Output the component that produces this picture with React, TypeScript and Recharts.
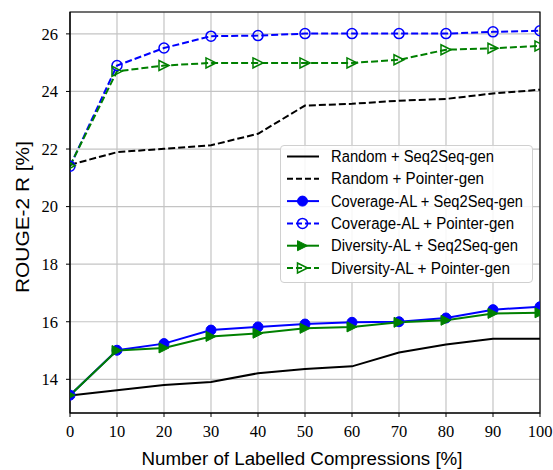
import React from "react";
import {
  LineChart,
  Line,
  XAxis,
  YAxis,
  CartesianGrid,
  ReferenceArea,
  Label,
} from "recharts";

const xValues = [0, 10, 20, 30, 40, 50, 60, 70, 80, 90, 100];
const randomSeq2Seq = [13.44, 13.62, 13.8, 13.91, 14.21, 14.36, 14.45, 14.93, 15.21, 15.41, 15.41];
const randomPointer = [21.45, 21.89, 22.01, 22.13, 22.53, 23.51, 23.57, 23.68, 23.74, 23.93, 24.06];
const coverageSeq2Seq = [13.45, 15.01, 15.24, 15.71, 15.82, 15.92, 15.98, 16.0, 16.13, 16.42, 16.52];
const coveragePointer = [21.4, 24.9, 25.51, 25.92, 25.94, 26.01, 26.01, 26.01, 26.01, 26.07, 26.11];
const diversitySeq2Seq = [13.45, 15.0, 15.09, 15.49, 15.6, 15.77, 15.82, 15.98, 16.05, 16.29, 16.31];
const diversityPointer = [21.42, 24.7, 24.9, 24.99, 24.99, 24.99, 24.99, 25.1, 25.45, 25.5, 25.58];

const xTicks = [0, 10, 20, 30, 40, 50, 60, 70, 80, 90, 100];
const yTicks = [14, 16, 18, 20, 22, 24, 26];
const yDomain: [number, number] = [12.83, 26.76];

const seriesNames = [
  "Random + Seq2Seq-gen",
  "Random + Pointer-gen",
  "Coverage-AL + Seq2Seq-gen",
  "Coverage-AL + Pointer-gen",
  "Diversity-AL + Seq2Seq-gen",
  "Diversity-AL + Pointer-gen",
];
const legendTextWidths = [163, 153, 192, 183, 187, 179];

const data = xValues.map((x, i) => ({
  x,
  rs: randomSeq2Seq[i],
  rp: randomPointer[i],
  cs: coverageSeq2Seq[i],
  cp: coveragePointer[i],
  ds: diversitySeq2Seq[i],
  dp: diversityPointer[i],
}));

type MarkerKind = "none" | "circle" | "circleOpen" | "tri" | "triOpen";

const BLUE = "#0000ff";
const GREEN = "#008000";

function Marker({ kind, cx, cy, color }: { kind: MarkerKind; cx: number; cy: number; color: string }) {
  const r = 5;
  if (kind === "circle") return <circle cx={cx} cy={cy} r={r} fill={color} stroke={color} strokeWidth={1} />;
  if (kind === "circleOpen") return <circle cx={cx} cy={cy} r={r} fill="none" stroke={color} strokeWidth={1.5} />;
  if (kind === "tri" || kind === "triOpen") {
    const pts = `${cx + r},${cy} ${cx - r},${cy - r} ${cx - r},${cy + r}`;
    return (
      <polygon
        points={pts}
        fill={kind === "tri" ? color : "none"}
        stroke={color}
        strokeWidth={kind === "tri" ? 1 : 1.5}
        strokeLinejoin="miter"
      />
    );
  }
  return null;
}

const makeDot = (kind: MarkerKind, color: string) => (p: any) => (
  <g key={`d-${kind}-${p.index}`}>
    <Marker kind={kind} cx={p.cx} cy={p.cy} color={color} />
  </g>
);

const seriesStyle: { key: string; color: string; dash?: string; marker: MarkerKind }[] = [
  { key: "rs", color: "#000000", marker: "none" },
  { key: "rp", color: "#000000", dash: "7 3", marker: "none" },
  { key: "cs", color: BLUE, marker: "circle" },
  { key: "cp", color: BLUE, dash: "7 3", marker: "circleOpen" },
  { key: "ds", color: GREEN, marker: "tri" },
  { key: "dp", color: GREEN, dash: "7 3", marker: "triOpen" },
];

const tickFont = { fontFamily: "Liberation Serif", fontSize: 16.5, fill: "#000" };
const labelFont = "Liberation Sans";

export default function App() {
  return (
    <div style={{ position: "absolute", left: 0, top: 0, width: 553, height: 470, background: "#fff" }}>
      <LineChart width={553} height={470} data={data} margin={{ top: 12, right: 13, left: 0, bottom: 0 }}>
        <CartesianGrid stroke="#c4c4c4" strokeWidth={1.2} />
        <XAxis
          dataKey="x"
          type="number"
          domain={[0, 100]}
          ticks={xTicks}
          height={57}
          tickSize={4}
          tickMargin={8}
          tick={tickFont}
          stroke="#000"
          tickLine={{ stroke: "#000" }}
          allowDataOverflow
        >
          <Label
            content={() => (
              <text
                x={302}
                y={465}
                textAnchor="middle"
                fontFamily={labelFont}
                fontSize={18}
                textLength={321}
                lengthAdjust="spacingAndGlyphs"
                fill="#000"
              >
                Number of Labelled Compressions [%]
              </text>
            )}
          />
        </XAxis>
        <YAxis
          type="number"
          domain={yDomain}
          ticks={yTicks}
          width={70}
          tickSize={4}
          tickMargin={8}
          tick={tickFont}
          stroke="#000"
          tickLine={{ stroke: "#000" }}
          allowDataOverflow
        >
          <Label
            content={() => (
              <text
                x={22.5}
                y={217}
                transform="rotate(-90 22.5 217)"
                textAnchor="middle"
                dominantBaseline="central"
                fontFamily={labelFont}
                fontSize={18}
                textLength={152}
                lengthAdjust="spacingAndGlyphs"
                fill="#000"
              >
                ROUGE-2 R [%]
              </text>
            )}
          />
        </YAxis>
        <ReferenceArea x1={0} x2={100} y1={yDomain[0]} y2={yDomain[1]} fill="none" stroke="#000" strokeWidth={1.2} />
        {seriesStyle.map((s, i) => (
          <Line
            key={s.key}
            dataKey={s.key}
            name={seriesNames[i]}
            type="linear"
            stroke={s.color}
            strokeWidth={2}
            strokeDasharray={s.dash}
            dot={s.marker === "none" ? false : makeDot(s.marker, s.color)}
            activeDot={false}
            isAnimationActive={false}
          />
        ))}
      </LineChart>
      <div
        style={{
          position: "absolute",
          left: 280,
          top: 145,
          width: 253,
          height: 138,
          border: "1px solid #d0d0d0",
          borderRadius: 4,
          background: "rgba(255,255,255,0.85)",
          boxSizing: "border-box",
        }}
      >
        <svg width={253} height={138} style={{ position: "absolute", left: -1, top: -1 }}>
          {seriesStyle.map((s, i) => {
            const cy = 11.5 + i * 22.3;
            return (
              <g key={s.key}>
                <line x1={7} x2={39} y1={cy} y2={cy} stroke={s.color} strokeWidth={2} strokeDasharray={s.dash ? "6 3" : undefined} />
                <Marker kind={s.marker} cx={22.5} cy={cy} color={s.color} />
                <text
                  x={51}
                  y={cy}
                  dominantBaseline="central"
                  fontFamily={labelFont}
                  fontSize={16}
                  textLength={legendTextWidths[i]}
                  lengthAdjust="spacingAndGlyphs"
                  fill="#000"
                >
                  {seriesNames[i]}
                </text>
              </g>
            );
          })}
        </svg>
      </div>
    </div>
  );
}
